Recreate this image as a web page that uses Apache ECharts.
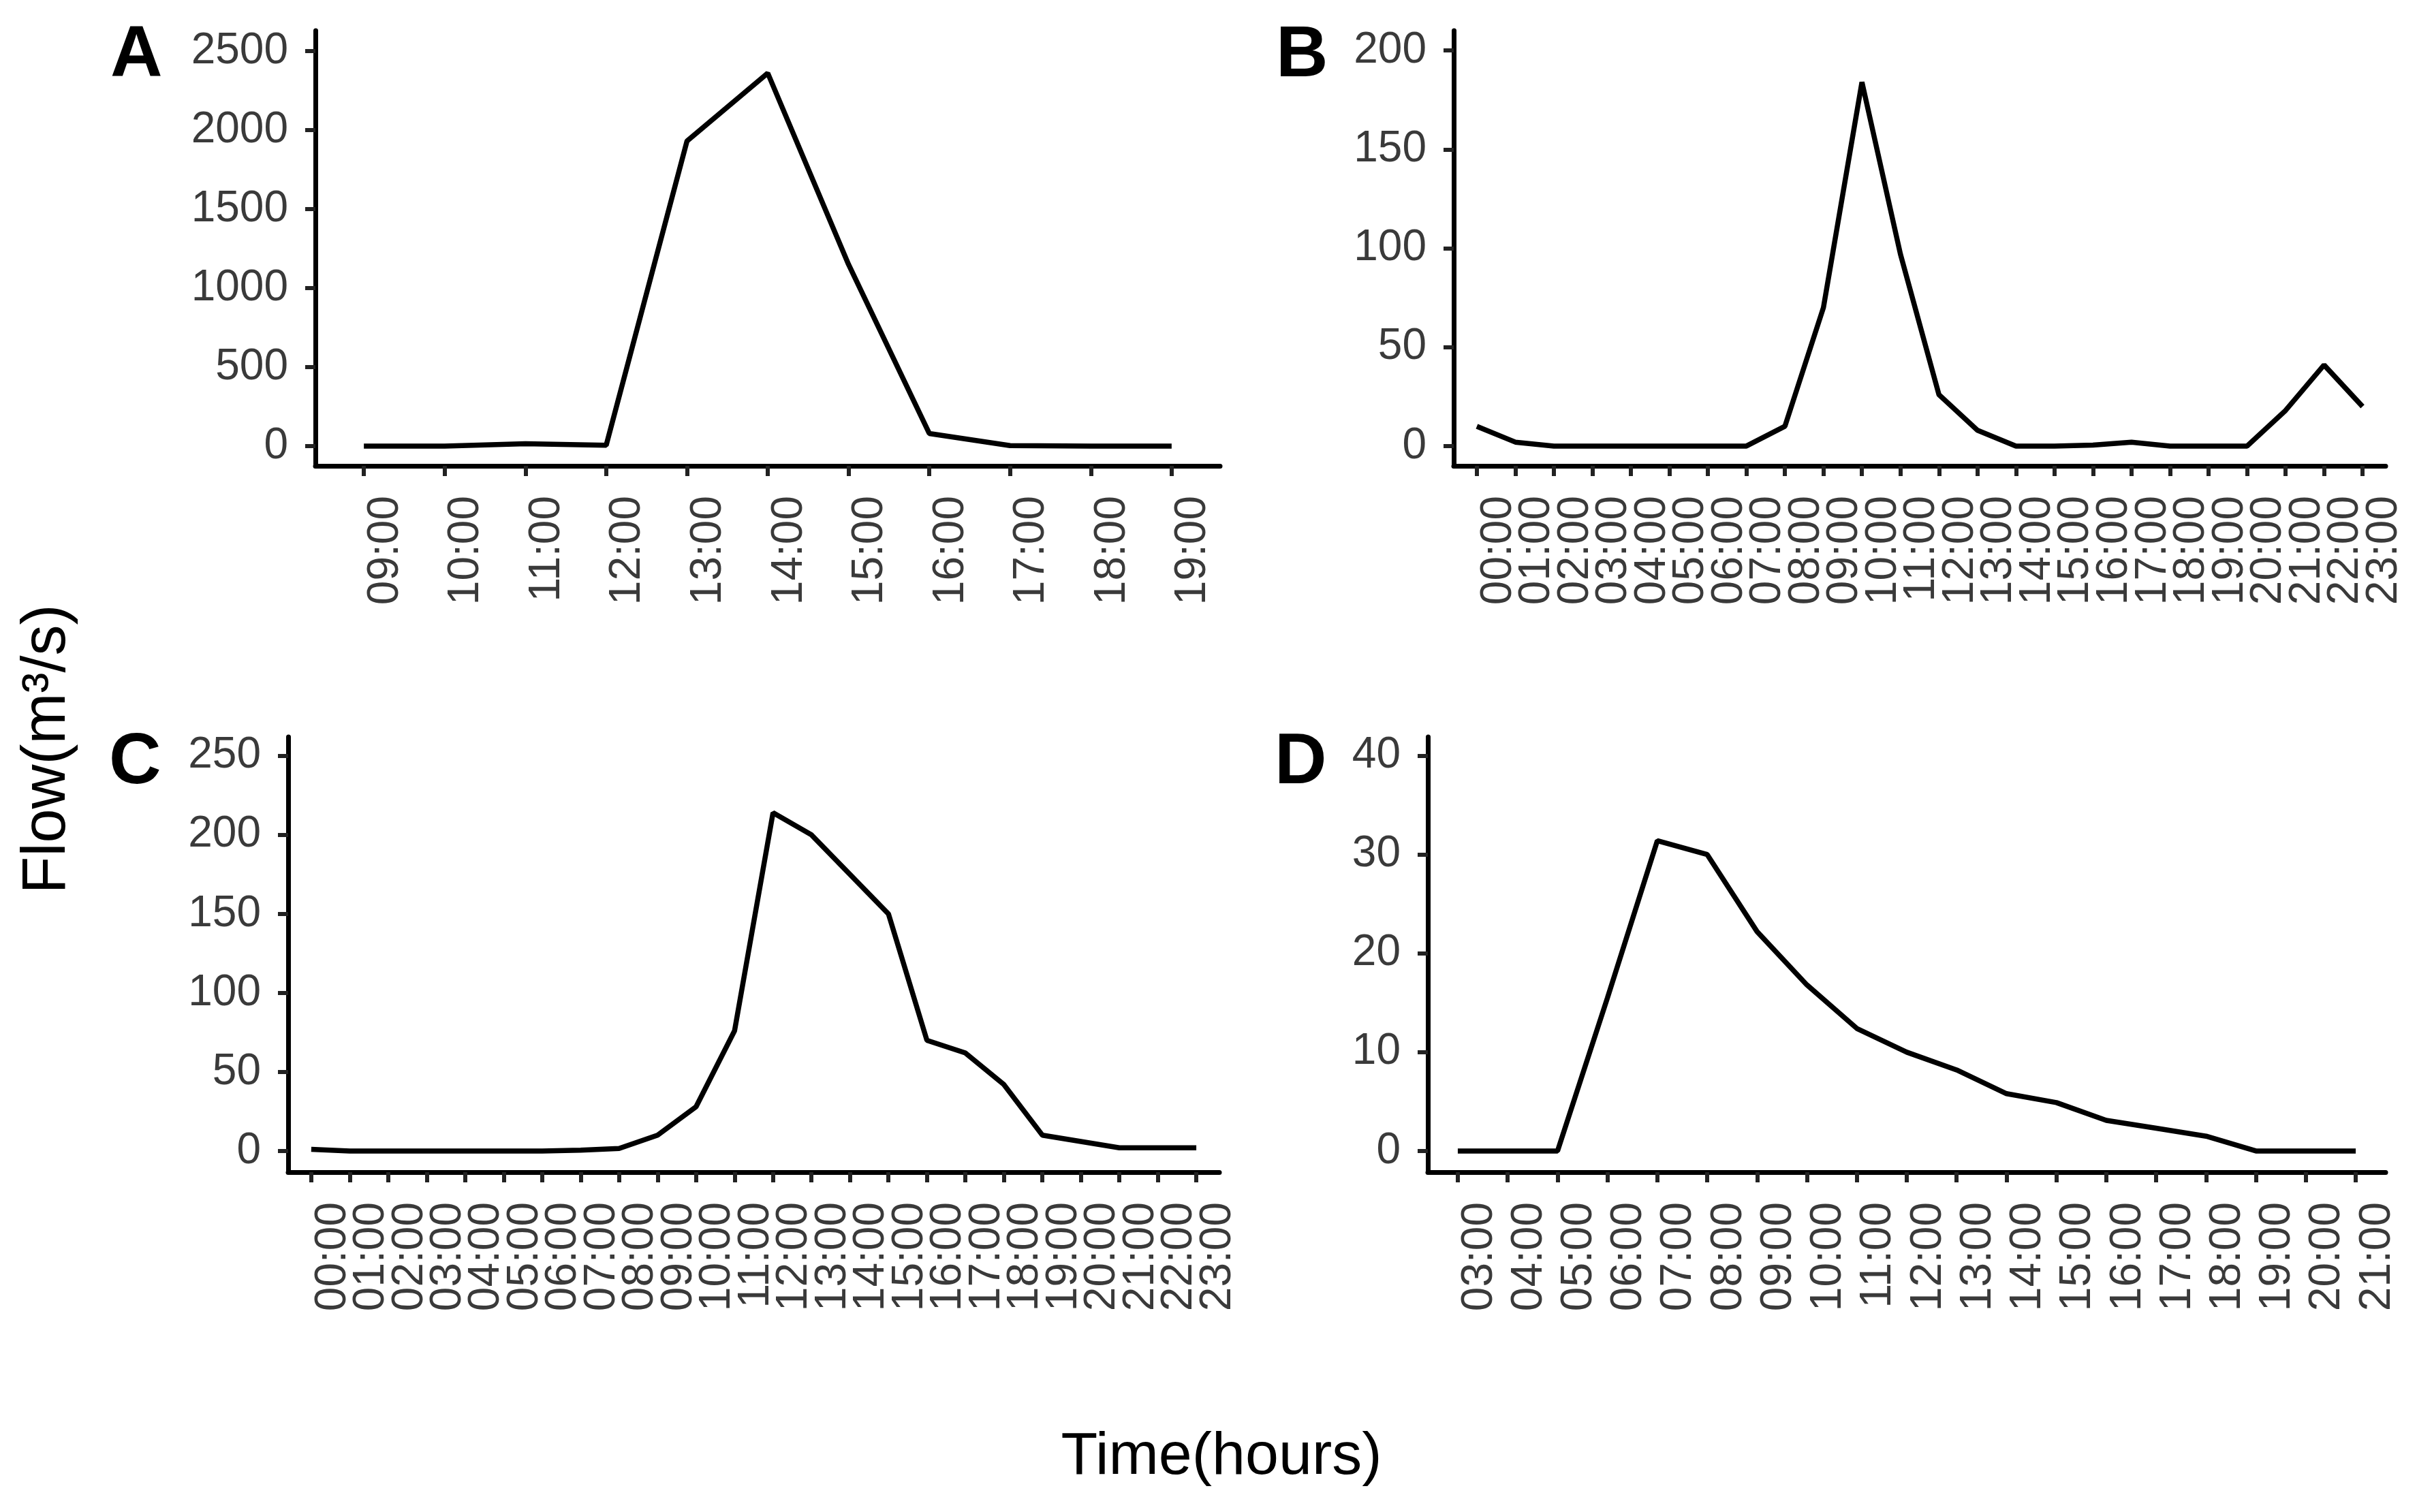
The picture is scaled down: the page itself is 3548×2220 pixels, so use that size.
<!DOCTYPE html>
<html lang="en">
  <head>
    <meta charset="UTF-8" />
    <title>Flow by hour</title>
    <script src="https://cdn.jsdelivr.net/npm/echarts@6/dist/echarts.min.js"></script>
    <style>
      html, body { margin: 0; padding: 0; background: #fff; }
    </style>
  </head>
  <body>
    <div id="main" style="width: 3548px; height: 2220px"></div>
    <script type="text/javascript">
      // hour labels per panel
      const hoursA = ["09:00", "10:00", "11:00", "12:00", "13:00", "14:00", "15:00", "16:00", "17:00", "18:00", "19:00"];
      const hoursB = ["00:00", "01:00", "02:00", "03:00", "04:00", "05:00", "06:00", "07:00", "08:00", "09:00", "10:00", "11:00",
                      "12:00", "13:00", "14:00", "15:00", "16:00", "17:00", "18:00", "19:00", "20:00", "21:00", "22:00", "23:00"];
      const hoursC = hoursB.slice();
      const hoursD = ["03:00", "04:00", "05:00", "06:00", "07:00", "08:00", "09:00", "10:00", "11:00", "12:00",
                      "13:00", "14:00", "15:00", "16:00", "17:00", "18:00", "19:00", "20:00", "21:00"];

      // flow values (m3/s)
      const flowA = [0, 0, 15, 5, 1930, 2360, 1150, 80, 3, 0, 0];
      const flowB = [10, 2, 0, 0, 0, 0, 0, 0, 10, 70, 184, 97, 26, 8, 0, 0, 0.5, 2, 0, 0, 0, 18, 41, 20];
      const flowC = [1, 0, 0, 0, 0, 0, 0, 0.5, 1.6, 10, 28, 76, 214, 200, 175, 150, 70, 62, 42, 10, 6, 2, 2, 2];
      const flowD = [0, 0, 0, 15.5, 31.4, 30, 22.2, 16.8, 12.4, 10, 8.2, 5.8, 4.9, 3.1, 2.3, 1.5, 0, 0, 0];

      // y tick labels
      const yTicksA = [0, 500, 1000, 1500, 2000, 2500];
      const yTicksB = [0, 50, 100, 150, 200];
      const yTicksC = [0, 50, 100, 150, 200, 250];
      const yTicksD = [0, 10, 20, 30, 40];

      const textColor = "#3a3a3a";
      const font = "Liberation Sans, Arial, sans-serif";

      const panels = [
        { hours: hoursA, flow: flowA, ticks: yTicksA, yMin: -125, yMax: 2629, grid: { left: 463, top: 45, width: 1328, height: 639 } },
        { hours: hoursB, flow: flowB, ticks: yTicksB, yMin: -10, yMax: 210, grid: { left: 2134, top: 45, width: 1368, height: 639 } },
        { hours: hoursC, flow: flowC, ticks: yTicksC, yMin: -13.4, yMax: 262, grid: { left: 423, top: 1082, width: 1367, height: 639 } },
        { hours: hoursD, flow: flowD, ticks: yTicksD, yMin: -2.14, yMax: 41.9, grid: { left: 2096, top: 1082, width: 1406, height: 639 } },
      ];

      const xLabelStyle = (p, values) => ({
        customValues: values,
        rotate: 90,
        verticalAlign: "top",
        showMinLabel: true,
        showMaxLabel: true,
        hideOverlap: false,
        margin: 44,
        fontSize: 64,
        fontFamily: font,
        color: textColor,
        formatter: (v) => p.hours[Math.round(v)],
      });

      const grids = [], xAxes = [], yAxes = [], series = [];
      panels.forEach((p, i) => {
        const idx = p.hours.map((h, k) => k);
        // labels split over two axes so none of them gets dropped for overlap
        const evenIdx = idx.filter((k) => k % 2 === 0);
        const oddIdx = idx.filter((k) => k % 2 === 1);
        grids.push(p.grid);
        const xMain = xAxes.length;
        xAxes.push({
          gridIndex: i,
          type: "value",
          position: "bottom",
          min: -0.6,
          max: p.hours.length - 0.4,
          splitLine: { show: false },
          axisLine: { show: true, onZero: false, lineStyle: { color: "#000", width: 7 } },
          axisTick: { show: true, customValues: idx, length: 15, lineStyle: { color: "#222", width: 6 } },
          axisLabel: xLabelStyle(p, evenIdx),
        });
        xAxes.push({
          gridIndex: i,
          type: "value",
          position: "bottom",
          offset: 0,
          min: -0.6,
          max: p.hours.length - 0.4,
          splitLine: { show: false },
          axisLine: { show: false, onZero: false },
          axisTick: { show: false },
          axisLabel: xLabelStyle(p, oddIdx),
        });
        yAxes.push({
          gridIndex: i,
          type: "value",
          min: p.yMin,
          max: p.yMax,
          splitLine: { show: false },
          axisLine: { show: true, onZero: false, lineStyle: { color: "#000", width: 7 } },
          axisTick: { show: true, customValues: p.ticks, length: 15, lineStyle: { color: "#222", width: 6 } },
          axisLabel: {
            customValues: p.ticks,
            showMinLabel: true,
            showMaxLabel: true,
            margin: 40,
            fontSize: 64,
            fontFamily: font,
            color: textColor,
            formatter: (v) => String(v),
          },
        });
        series.push({
          type: "line",
          xAxisIndex: xMain,
          yAxisIndex: i,
          data: p.flow.map((v, k) => [k, v]),
          showSymbol: false,
          symbol: "none",
          lineStyle: { color: "#000", width: 7.5 },
        });
      });

      const letter = (txt, x, y) => ({
        type: "text",
        x: x,
        y: y,
        style: { text: txt, fontSize: 106, fontWeight: "bold", fontFamily: font, fill: "#000", align: "left", verticalAlign: "middle" },
      });

      let options = {
        animation: false,
        backgroundColor: "#fff",
        grid: grids,
        xAxis: xAxes,
        yAxis: yAxes,
        series: series,
        graphic: [
          letter("A", 162, 83),
          letter("B", 1873, 83),
          letter("C", 160, 1121),
          letter("D", 1871, 1121),
          {
            type: "text",
            x: 70,
            y: 1100,
            rotation: Math.PI / 2,
            style: { text: "Flow(m³/s)", fontSize: 90, fontFamily: font, fill: "#000", align: "center", verticalAlign: "middle" },
          },
          {
            type: "text",
            x: 1793,
            y: 2140,
            style: { text: "Time(hours)", fontSize: 88, fontFamily: font, fill: "#000", align: "center", verticalAlign: "middle" },
          },
        ],
      };

      let myChart = echarts.init(document.getElementById("main"));
      myChart.setOption(options);
    </script>
  </body>
</html>
